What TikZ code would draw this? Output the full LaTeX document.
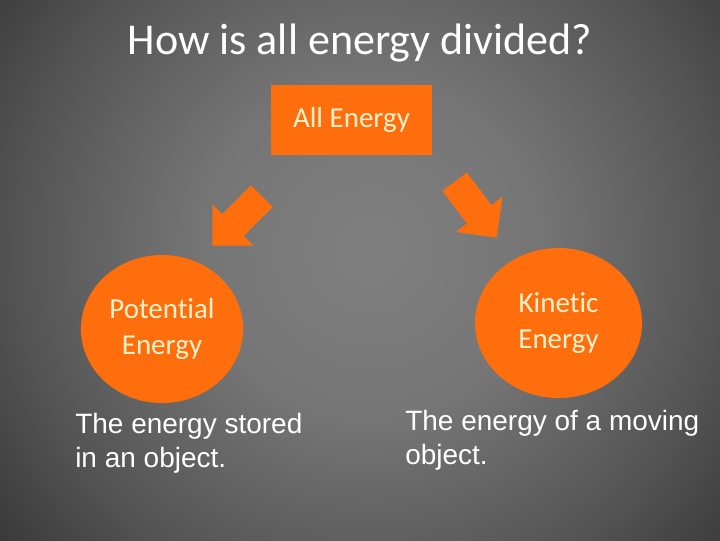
\documentclass[tikz,border=0pt]{standalone}
\usepackage{fontspec}
\setmainfont{Carlito}[Ligatures=NoCommon]
\newfontfamily\arialfont{Liberation Sans}
\usetikzlibrary{shapes.arrows, shapes.geometric}
\definecolor{slideorange}{RGB}{255,110,12}
\definecolor{cream}{RGB}{255,242,204}
\definecolor{bgmid}{gray}{0.50}
\definecolor{bgin}{gray}{0.46}
\definecolor{bgout}{gray}{0.33}
\definecolor{bgrim}{gray}{0.18}
\definecolor{bgedge}{gray}{0.07}
\pgfdeclareradialshading{slidebg}{\pgfpoint{0bp}{0bp}}{color(0bp)=(bgmid); color(9.4bp)=(bgin); color(19.6bp)=(bgout); color(29bp)=(bgrim); color(36bp)=(bgedge); color(50bp)=(bgedge)}
\tikzset{
  orangebox/.style={fill=slideorange, text=cream, align=center},
  blockarrow/.style={single arrow, fill=slideorange, inner xsep=0pt, inner ysep=0.375cm,
    minimum height=1.75cm, single arrow head extend=0.35cm, single arrow tip angle=90},
  desc/.style={text=white, align=left, inner sep=0pt,
    font=\arialfont\fontsize{19.9}{24}\selectfont}
}
\begin{document}
\begin{tikzpicture}[x=0.025cm, y=-0.025cm, font=\fontsize{20.6}{25.6}\selectfont]
  \useasboundingbox (0,0) rectangle (720,540);
  \begin{scope}
    \clip (0,0) rectangle (720,540);
    \shade[shading=slidebg] (-80,-200) rectangle (820,700);
  \end{scope}
  \node[text=white, anchor=base, font=\fontsize{31.3}{36}\selectfont] (title) at (360,54) {How is all energy divided?};
  \node[orangebox, minimum width=4.025cm, minimum height=1.75cm] (all) at (351.5,120) {All Energy};
  \node[blockarrow, rotate=225, anchor=tip] (leftarrow) at (212,246) {};
  \node[blockarrow, rotate=-53, anchor=tip] (rightarrow) at (497,238) {};
  \node[orangebox, ellipse, minimum width=4.05cm, minimum height=3.7cm] (potential) at (162,329) {Potential\\Energy};
  \node[orangebox, ellipse, minimum width=4.175cm, minimum height=3.75cm] (kinetic) at (558.5,323) {Kinetic\\Energy};
  \node[desc, anchor=north west] (potdesc) at (75,413) {The energy stored\\in an object.};
  \node[desc, anchor=north west] (kindesc) at (405,410) {The energy of a moving\\object.};
\end{tikzpicture}
\end{document}
